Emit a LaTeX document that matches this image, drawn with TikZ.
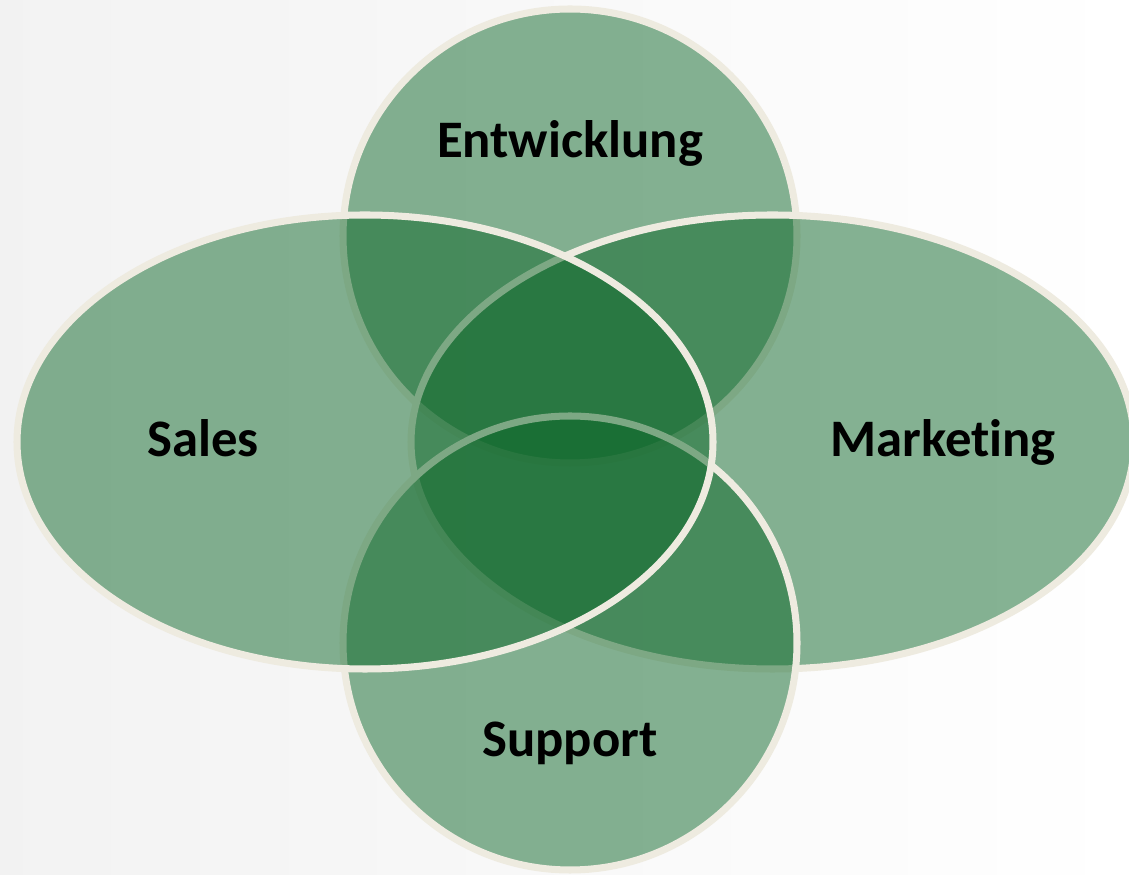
\documentclass[tikz,border=0pt]{standalone}
\usepackage{fontspec}
\setmainfont{Carlito}[Ligatures=NoCommon]

\definecolor{venngreen}{RGB}{13,103,41}
\definecolor{vennrim}{RGB}{238,235,224}

\tikzset{
  venn/.style      = {fill=venngreen, fill opacity=0.5, draw=vennrim, draw opacity=1, line width=4pt},
  vennlabel/.style = {font=\fontsize{30}{36}\selectfont\bfseries, text=black, anchor=base}
}

\begin{document}
\begin{tikzpicture}
        \clip (0,0) rectangle (22.58,17.5);
        \shade[left color=black!5, middle color=black!1, right color=white] (0,0) rectangle (22.58,17.5);

        % circles, back to front
        \draw[venn] (11.40,12.78) circle (4.54cm);             % top
        \draw[venn] (15.45,8.66)  ellipse (7.23cm and 4.54cm); % right
        \draw[venn] (11.40,4.64)  circle (4.54cm);             % bottom
        \draw[venn] (7.30,8.66)   ellipse (6.96cm and 4.54cm); % left

        \node[vennlabel] (entw)  at (11.40,14.34) {Entwicklung};
        \node[vennlabel] (sales) at (4.06,8.36)   {Sales};
        \node[vennlabel] (mark)  at (18.86,8.36)  {Marketing};
        \node[vennlabel] (supp)  at (11.40,2.36)  {Support};
\end{tikzpicture}
\end{document}
